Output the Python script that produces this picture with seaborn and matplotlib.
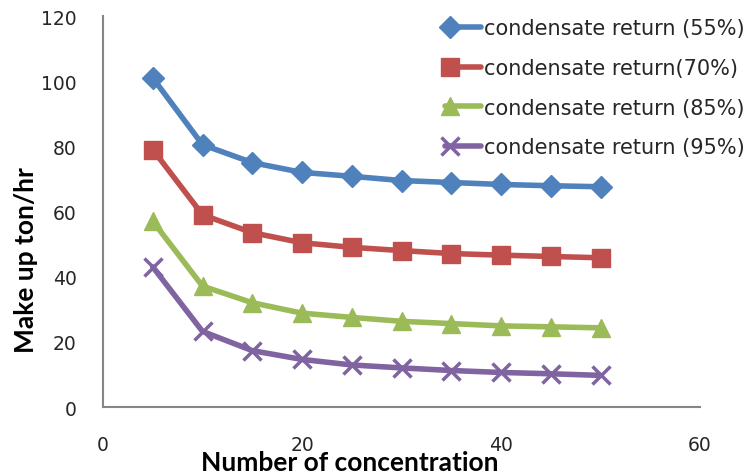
import matplotlib
matplotlib.use("Agg")
import matplotlib.pyplot as plt
from matplotlib.lines import Line2D
from matplotlib.legend_handler import HandlerLine2D
import seaborn as sns
import pandas as pd

# Make-up water demand versus cycles of concentration
concentration = [5, 10, 15, 20, 25, 30, 35, 40, 45, 50]
return_55 = [101.0, 80.5, 75.0, 72.0, 70.8, 69.5, 68.9, 68.3, 67.9, 67.6]
return_70 = [79.0, 59.0, 53.5, 50.4, 49.0, 48.0, 47.1, 46.6, 46.2, 45.8]
return_85 = [57.0, 37.1, 32.0, 28.8, 27.5, 26.3, 25.6, 24.9, 24.6, 24.3]
return_95 = [43.0, 23.2, 17.3, 14.6, 12.9, 12.0, 11.2, 10.6, 10.2, 9.7]

series_labels = [
    "condensate return (55%)",
    "condensate return(70%)",
    "condensate return (85%)",
    "condensate return (95%)",
]
series_values = [return_55, return_70, return_85, return_95]
colors = ["#4F81BD", "#C0504D", "#9BBB59", "#8064A2"]
markers = ["D", "s", "^", "x"]
marker_sizes = [11, 13, 13, 13]
marker_edges = [1.0, 1.0, 1.0, 2.5]

x_ticks = [0, 20, 40, 60]
y_ticks = [0, 20, 40, 60, 80, 100, 120]


class LeftMarkerHandler(HandlerLine2D):
    """Legend entry with the marker sitting near the left end of the line."""

    def create_artists(self, legend, orig_handle, xdescent, ydescent,
                       width, height, fontsize, trans):
        artists = super().create_artists(legend, orig_handle, xdescent,
                                         ydescent, width, height, fontsize,
                                         trans)
        line = artists[0]
        xd = list(line.get_xdata())
        if len(xd) == 3:
            line.set_xdata([xd[0], xd[0] + 0.13 * (xd[-1] - xd[0]), xd[-1]])
        return artists


sns.set_style("white")
plt.rcParams["font.family"] = ["DejaVu Sans"]

fig = plt.figure(figsize=(7.54, 4.77), dpi=100)
ax = fig.add_axes([103 / 754, 1 - 408 / 477, 597 / 754, 391 / 477])

for label, vals, c, m, ms, mew in zip(series_labels, series_values, colors,
                                      markers, marker_sizes, marker_edges):
    df = pd.DataFrame({"x": concentration, "y": vals})
    sns.lineplot(data=df, x="x", y="y", ax=ax, color=c, marker=m, ms=ms,
                 mec=c, mfc=c, mew=mew, lw=4, label=label, legend=False)

ax.set_xlim(0, 60)
ax.set_ylim(0, 120)
ax.set_xticks(x_ticks)
ax.set_yticks(y_ticks)
ax.tick_params(axis="both", length=0, labelsize=13.5, labelcolor="#262626")
ax.tick_params(axis="y", pad=19)
ax.tick_params(axis="x", pad=20)

for side in ["top", "right"]:
    ax.spines[side].set_visible(False)
for side in ["left", "bottom"]:
    ax.spines[side].set_color("#868686")
    ax.spines[side].set_linewidth(1.5)

ax.set_xlabel("Number of concentration", fontfamily="Lato", fontweight="bold",
              fontsize=19, color="black")
ax.set_ylabel("Make up ton/hr", fontfamily="Lato", fontweight="bold",
              fontsize=19, color="black")
ax.xaxis.set_label_coords((350 - 103) / 597, (408 - 463) / 391)
ax.xaxis.label.set_verticalalignment("center")
ax.yaxis.set_label_coords((26 - 103) / 597, (408 - 260) / 391)
ax.yaxis.label.set_verticalalignment("center")

handles = [
    Line2D([0], [0], color=c, marker=m, ms=ms, mec=c, mfc=c, mew=mew, lw=4)
    for c, m, ms, mew in zip(colors, markers, marker_sizes, marker_edges)
]
fig.legend(handles, series_labels, loc="upper left",
           bbox_to_anchor=(445 / 754, 1 - 19 / 477), frameon=False,
           fontsize=15, numpoints=1, handlelength=1.75, handletextpad=0.1,
           labelspacing=0.95, borderpad=0, borderaxespad=0,
           labelcolor="#262626",
           handler_map={Line2D: LeftMarkerHandler()})

fig.savefig("out.png", dpi=100)
